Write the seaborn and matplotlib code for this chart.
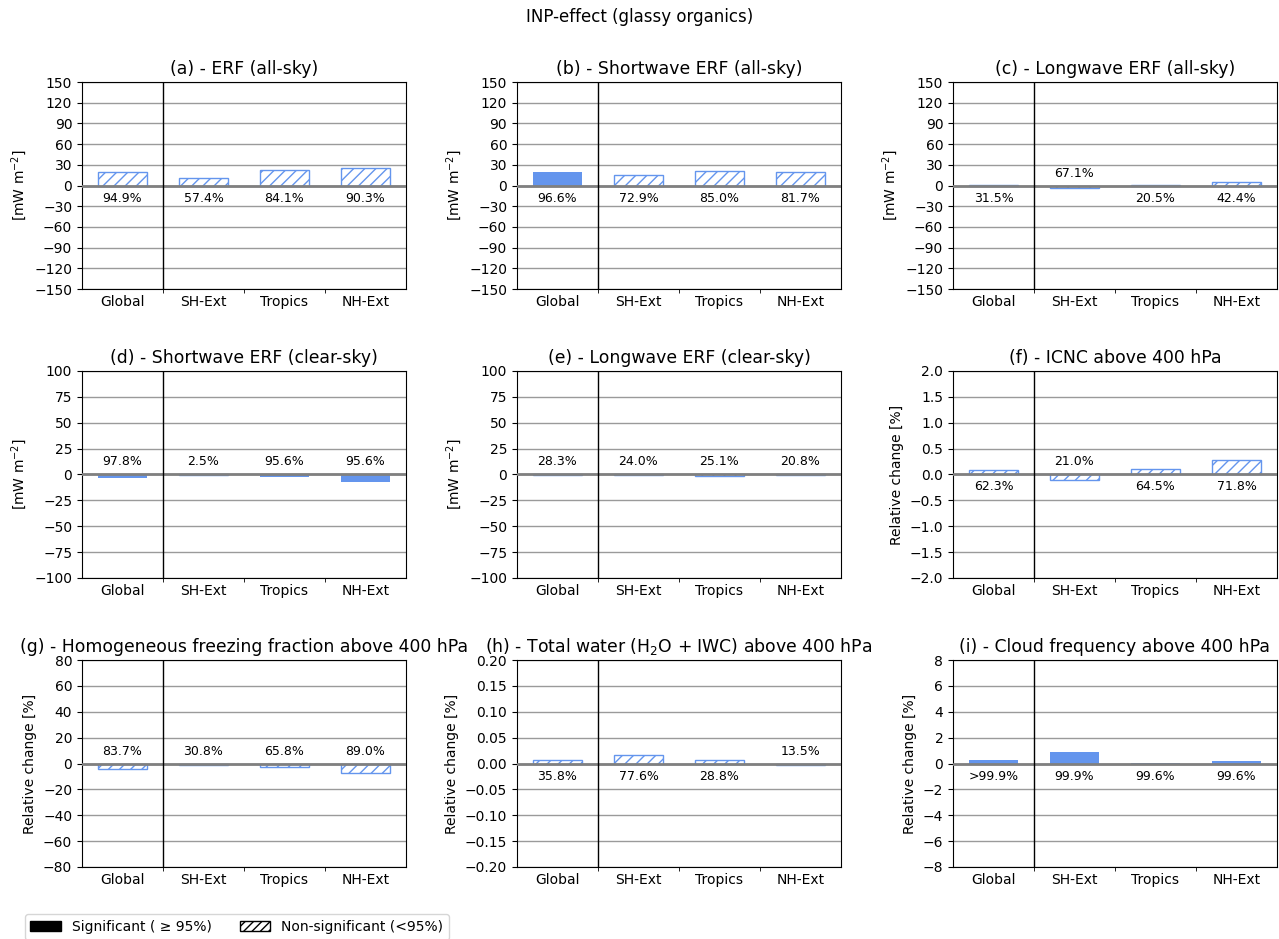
import numpy as np
import pandas as pd
import seaborn as sns
import matplotlib.pyplot as plt
from matplotlib.patches import Patch
from matplotlib.ticker import FuncFormatter

# regions on the x axis
regions = ['Global', 'SH-Ext', 'Tropics', 'NH-Ext']

# values, confidence in %
erf_all = [20, 11, 23, 26]
erf_all_conf = ['94.9%', '57.4%', '84.1%', '90.3%']
sw_all = [19, 15, 21, 20]
sw_all_conf = ['96.6%', '72.9%', '85.0%', '81.7%']
lw_all = [1.0, -4, 0.5, 5]
lw_all_conf = ['31.5%', '67.1%', '20.5%', '42.4%']
sw_clear = [-3, -0.3, -2, -7]
sw_clear_conf = ['97.8%', '2.5%', '95.6%', '95.6%']
lw_clear = [-0.6, -0.2, -1.0, -0.3]
lw_clear_conf = ['28.3%', '24.0%', '25.1%', '20.8%']
icnc = [0.09, -0.10, 0.11, 0.28]
icnc_conf = ['62.3%', '21.0%', '64.5%', '71.8%']
hom_frac = [-4.5, -1.0, -2.5, -7.0]
hom_frac_conf = ['83.7%', '30.8%', '65.8%', '89.0%']
tot_water = [0.006, 0.017, 0.006, -0.003]
tot_water_conf = ['35.8%', '77.6%', '28.8%', '13.5%']
cloud_freq = [0.30, 0.90, 0.02, 0.20]
cloud_freq_conf = ['>99.9%', '99.9%', '99.6%', '99.6%']

titles = ['(a) - ERF (all-sky)', '(b) - Shortwave ERF (all-sky)',
          '(c) - Longwave ERF (all-sky)', '(d) - Shortwave ERF (clear-sky)',
          '(e) - Longwave ERF (clear-sky)', '(f) - ICNC above 400 hPa',
          '(g) - Homogeneous freezing fraction above 400 hPa',
          '(h) - Total water (H$_2$O + IWC) above 400 hPa',
          '(i) - Cloud frequency above 400 hPa']
ylabels = ['[mW m$^{-2}$]'] * 5 + ['Relative change [%]'] * 4
ylims = [150, 150, 150, 100, 100, 2, 80, 0.2, 8]
ysteps = [30, 30, 30, 25, 25, 0.5, 20, 0.05, 2]
ydec = [0, 0, 0, 0, 0, 1, 0, 2, 0]

values = [erf_all, sw_all, lw_all, sw_clear, lw_clear, icnc, hom_frac, tot_water, cloud_freq]
confs = [erf_all_conf, sw_all_conf, lw_all_conf, sw_clear_conf, lw_clear_conf,
         icnc_conf, hom_frac_conf, tot_water_conf, cloud_freq_conf]

col = 'cornflowerblue'
fig = plt.figure(figsize=(12.79, 9.39), dpi=100)
fig.suptitle('INP-effect (glassy organics)', fontsize=12, y=0.992)

lefts = [0.0641, 0.4042, 0.7451]
bottoms = [0.6922, 0.3845, 0.0767]
w, h = 0.2533, 0.2204

def make_fmt(nd):
    return FuncFormatter(lambda v, pos: ('%.*f' % (nd, v)).replace('-', '\u2212')
                         if abs(v) > 1e-12 else '%.*f' % (nd, 0))

for k in range(9):
    ax = fig.add_axes([lefts[k % 3], bottoms[k // 3], w, h])
    df = pd.DataFrame({'region': regions, 'val': values[k]})
    sns.barplot(data=df, x='region', y='val', ax=ax, color=col, saturation=1,
                width=0.6, zorder=3)
    for p, c in zip(ax.patches, confs[k]):
        pct = float(c.strip('>%'))
        if pct < 95:
            p.set_facecolor('white')
            p.set_edgecolor(col)
            p.set_hatch('///')
            p.set_linewidth(1.0)
    for i, (v, c) in enumerate(zip(values[k], confs[k])):
        off = -9 if v >= 0 else 9
        ax.annotate(c, (i, 0), xytext=(0, off), textcoords='offset points',
                    ha='center', va='center', fontsize=9, zorder=5)
    lim = ylims[k]
    ax.set_ylim(-lim, lim)
    ax.set_xlim(-0.5, 3.5)
    ax.set_yticks(np.linspace(-lim, lim, int(round(2 * lim / ysteps[k])) + 1))
    ax.yaxis.set_major_formatter(make_fmt(ydec[k]))
    ax.yaxis.grid(True, color='#9a9a9a', lw=1, zorder=0)
    ax.set_axisbelow(True)
    ax.axhline(0, color='gray', lw=2, zorder=4)
    ax.axvline(0.5, color='black', lw=1, zorder=4)
    ax.set_xticks([0.5, 1.5, 2.5], minor=True)
    ax.tick_params(axis='x', which='major', length=0, labelsize=10, pad=4)
    ax.tick_params(axis='x', which='minor', length=3)
    ax.tick_params(axis='y', labelsize=10)
    ax.set_xlabel('')
    ax.set_ylabel(ylabels[k], fontsize=10)
    ax.set_title(titles[k], fontsize=12.4)

handles = [Patch(facecolor='black', edgecolor='black', label='Significant ( \u2265 95%)'),
           Patch(facecolor='white', edgecolor='black', hatch='////', label='Non-significant (<95%)')]
fig.legend(handles=handles, loc='lower left', bbox_to_anchor=(0.014, -0.008), ncol=2,
           fontsize=10, frameon=True, handlelength=2.2)

fig.savefig('out.png', dpi=100)
